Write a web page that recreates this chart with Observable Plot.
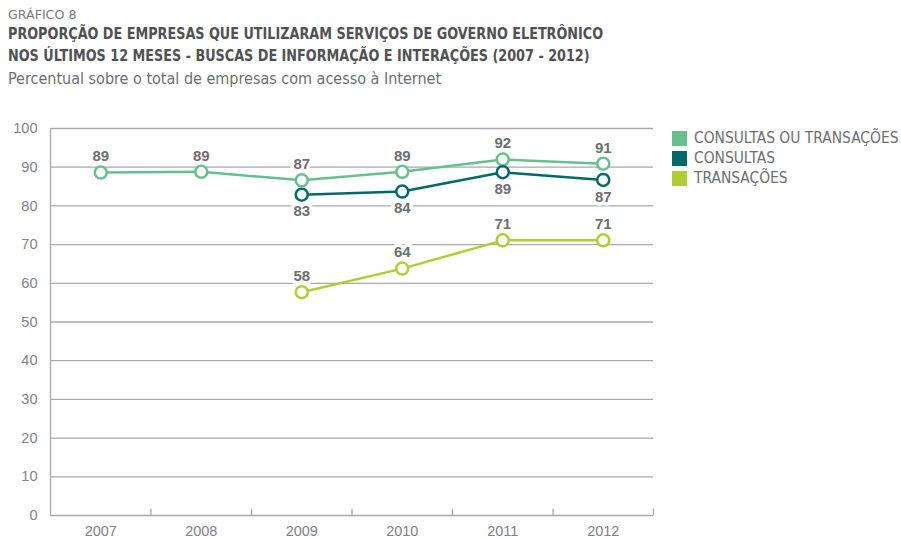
<!DOCTYPE html>
<html><head><meta charset="utf-8">
<script src="https://cdn.jsdelivr.net/npm/d3@7"></script>
<script src="https://cdn.jsdelivr.net/npm/@observablehq/plot@0.6"></script>
<style>
body{margin:0;background:#fff;width:901px;height:539px;overflow:hidden;position:relative;font-family:"DejaVu Sans Condensed","Liberation Sans",sans-serif;}
.hdr{position:absolute;left:8px;white-space:nowrap;transform-origin:0 0;}
#g{top:7px;font-size:13px;color:#7a7a7a;transform:scaleX(1.08);}
#t1{top:25px;font-size:15.5px;font-weight:bold;color:#505153;transform:scaleX(0.918);}
#t2{top:47px;font-size:15.5px;font-weight:bold;color:#505153;transform:scaleX(0.918);}
#st{top:69px;font-size:16px;color:#6d6e71;}
#chart{position:absolute;left:0;top:100px;}
#legend{position:absolute;left:672px;top:128px;}
.li{display:flex;align-items:center;height:20px;font-size:15.4px;color:#6d6e71;white-space:nowrap;}
.sw{width:15px;height:15px;margin-right:7px;}
</style></head>
<body>
<div class="hdr" id="g">GRÁFICO 8</div>
<div class="hdr" id="t1">PROPORÇÃO DE EMPRESAS QUE UTILIZARAM SERVIÇOS DE GOVERNO ELETRÔNICO</div>
<div class="hdr" id="t2">NOS ÚLTIMOS 12 MESES - BUSCAS DE INFORMAÇÃO E INTERAÇÕES (2007 - 2012)</div>
<div class="hdr" id="st">Percentual sobre o total de empresas com acesso à Internet</div>
<div id="chart"></div>
<div id="legend"></div>
<script>
const years = [2007, 2008, 2009, 2010, 2011, 2012];
const consultasOuTransacoes = [88.6, 88.8, 86.6, 88.8, 92.0, 90.9];
const consultas = [null, null, 82.9, 83.7, 88.7, 86.7];
const transacoes = [null, null, 57.7, 63.8, 71.1, 71.1];
const seriesNames = ["CONSULTAS OU TRANSAÇÕES", "CONSULTAS", "TRANSAÇÕES"];
const seriesColors = ["#66c08e", "#00696a", "#b2cd32"];
const yTicks = [0, 10, 20, 30, 40, 50, 60, 70, 80, 90, 100];
const labelPos = ["above", "below", "above"];

const seriesValues = [consultasOuTransacoes, consultas, transacoes];
const rows = [];
seriesValues.forEach((vals, i) => {
  vals.forEach((v, j) => {
    if (v != null) rows.push({year: years[j], value: v, series: seriesNames[i], pos: labelPos[i]});
  });
});
const boundaries = years.map(y => y + 0.5);
const grey = "#6d6e71";
const tickGrey = "#808285";
const gridColor = "#a7a9ac";
const labelFont = "'Liberation Sans',Arial,sans-serif";

const plot = Plot.plot({
  width: 901,
  height: 439,
  marginLeft: 50,
  marginRight: 248,
  marginTop: 28,
  marginBottom: 24,
  style: {fontFamily: labelFont, fontSize: "14.5px", color: grey, background: "white"},
  x: {domain: [years[0] - 0.5, years[years.length - 1] + 0.5], axis: null},
  y: {domain: [0, 100], axis: null},
  color: {domain: seriesNames, range: seriesColors},
  marks: [
    Plot.ruleY(yTicks, {stroke: gridColor, strokeWidth: 1.3}),
    Plot.ruleX([years[0] - 0.5], {y1: 0, y2: 100, stroke: gridColor, strokeWidth: 1.3}),
    Plot.ruleX(boundaries, {y1: 0, y2: 1.6, stroke: gridColor, strokeWidth: 1.3}),
    Plot.axisY({ticks: yTicks, tickSize: 0, tickPadding: 13, fontSize: 14.5, label: null, fill: tickGrey}),
    Plot.axisX({ticks: years, tickSize: 0, tickPadding: 10, tickFormat: d3.format("d"), fontSize: 14.5, label: null, fill: tickGrey}),
    Plot.line(rows, {x: "year", y: "value", stroke: "series", z: "series", strokeWidth: 2.5}),
    Plot.dot(rows, {x: "year", y: "value", stroke: "series", fill: "white", r: 6, strokeWidth: 2.5}),
    Plot.text(rows.filter(d => d.pos === "above"), {x: "year", y: "value", text: d => d3.format(".0f")(d.value), dy: -16, fill: grey, stroke: "white", strokeWidth: 7, fontSize: 15, fontWeight: "bold"}),
    Plot.text(rows.filter(d => d.pos === "below"), {x: "year", y: "value", text: d => d3.format(".0f")(d.value), dy: 17, fill: grey, stroke: "white", strokeWidth: 7, fontSize: 15, fontWeight: "bold"})
  ]
});
document.getElementById("chart").appendChild(plot);

const lg = document.getElementById("legend");
seriesNames.forEach((n, i) => {
  const d = document.createElement("div");
  d.className = "li";
  d.innerHTML = `<span class="sw" style="background:${seriesColors[i]}"></span>${n}`;
  lg.appendChild(d);
});
</script>
</body></html>
